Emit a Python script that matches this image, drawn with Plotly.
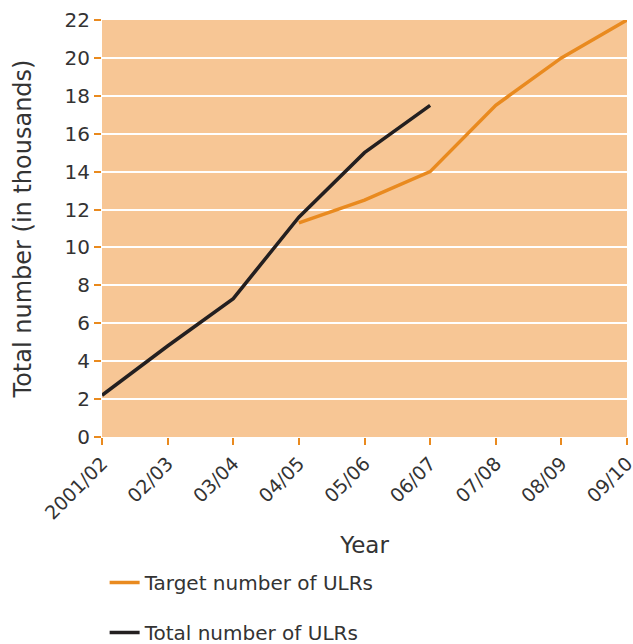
import plotly.graph_objects as go

years = ["2001/02", "02/03", "03/04", "04/05", "05/06", "06/07", "07/08", "08/09", "09/10"]
target = [None, None, None, 11.3, 12.5, 14.0, 17.5, 20.0, 22.0]
total = [2.2, 4.8, 7.3, 11.6, 15.0, 17.5, None, None, None]
y_ticks = list(range(0, 23, 2))

ORANGE = "#E98A1F"
BLACK = "#231F20"
BG = "#F7C695"
TXT = "#333333"
FONT = "DejaVu Sans"

fig = go.Figure()
fig.add_trace(go.Scatter(x=years, y=target, mode="lines", name="Target number of ULRs",
                         line=dict(color=ORANGE, width=3.5), legendgroup="a"))
fig.add_trace(go.Scatter(x=years, y=total, mode="lines", name="Total number of ULRs",
                         line=dict(color=BLACK, width=3.5), legendgroup="b"))

fig.update_layout(
    width=633, height=644,
    margin=dict(l=102, r=6, t=20, b=207, autoexpand=False),
    paper_bgcolor="white", plot_bgcolor=BG,
    font=dict(family=FONT, color=TXT, size=17),
    showlegend=True,
    legend=dict(x=0.005, xanchor="left", y=-0.302, yanchor="top",
                orientation="v", traceorder="grouped", tracegroupgap=21,
                font=dict(size=20, color=TXT), bgcolor="rgba(0,0,0,0)"),
    xaxis=dict(type="category", range=[0, 8], showgrid=False, zeroline=False,
               showline=False, ticks="outside", tickcolor=ORANGE, ticklen=7, tickwidth=2,
               tickangle=-45, tickfont=dict(size=19, color=TXT), automargin=False,
               title=dict(text="Year", font=dict(size=23, color=TXT), standoff=14)),
    yaxis=dict(range=[0, 22], tickvals=y_ticks, showgrid=True, gridcolor="white", gridwidth=2,
               zeroline=False, showline=False, ticks="outside", tickcolor=ORANGE,
               ticklen=7, tickwidth=2, tickfont=dict(size=20, color=TXT), automargin=False,
               title=dict(text="Total number (in thousands)", font=dict(size=24, color=TXT), standoff=26)),
)

fig.write_html("out.html")
